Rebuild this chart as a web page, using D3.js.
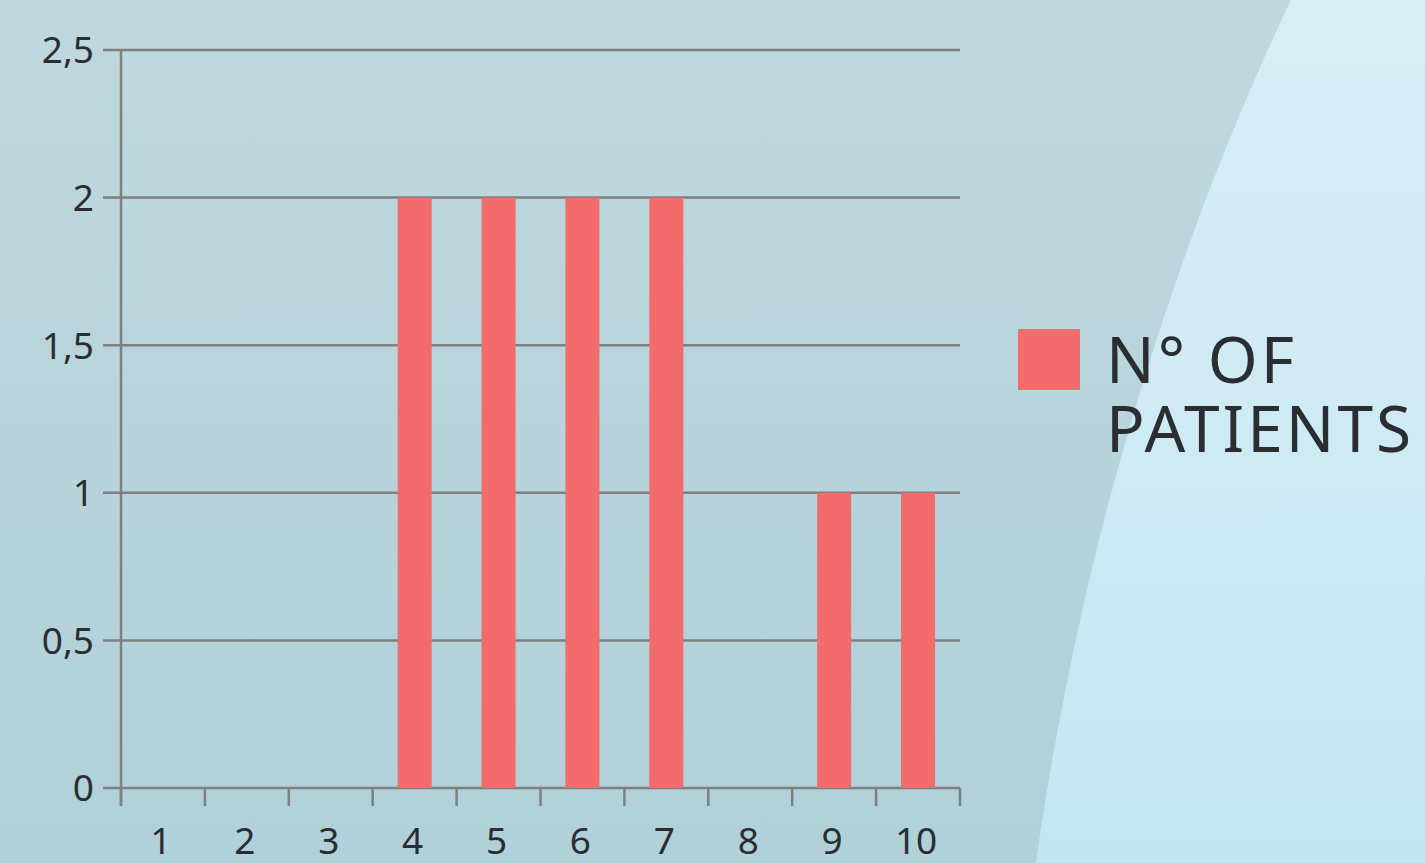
<!DOCTYPE html>
<html>
<head>
<meta charset="utf-8">
<script src="https://cdn.jsdelivr.net/npm/d3@7"></script>
<style>
  html, body { margin: 0; padding: 0; }
  body { width: 1425px; height: 863px; overflow: hidden; }
  text { font-family: "Noto Sans", "Open Sans", sans-serif; fill: #2a2e31; }
</style>
</head>
<body>
<div id="chart"></div>
<script>
// data
var categories = ["1", "2", "3", "4", "5", "6", "7", "8", "9", "10"];
var patients = [0, 0, 0, 2, 2, 2, 2, 0, 1, 1];
var yTicks = [0, 0.5, 1, 1.5, 2, 2.5];
var seriesName = ["N° OF", "PATIENTS"];

var W = 1425, H = 863;
var margin = {top: 50, left: 121, right: 465, bottom: 75};
var width = W - margin.left - margin.right,
    height = H - margin.top - margin.bottom;

var svg = d3.select("#chart").append("svg")
   .attr("width", W)
   .attr("height", H);

// background
var defs = svg.append("defs");
var g1 = defs.append("linearGradient").attr("id", "bgLeft")
   .attr("x1", 0).attr("y1", 0).attr("x2", 0).attr("y2", 1);
g1.append("stop").attr("offset", "0%").attr("stop-color", "#bfd8de");
g1.append("stop").attr("offset", "100%").attr("stop-color", "#b0d0da");
var g2 = defs.append("linearGradient").attr("id", "bgRight")
   .attr("x1", 0).attr("y1", 0).attr("x2", 0).attr("y2", 1);
g2.append("stop").attr("offset", "0%").attr("stop-color", "#d8eef7");
g2.append("stop").attr("offset", "100%").attr("stop-color", "#c4e6f3");

svg.append("rect").attr("width", W).attr("height", H).attr("fill", "url(#bgLeft)");
svg.append("path")
   .attr("d", "M1291,0 C1205,180 1090,480 1036,863 L1425,863 L1425,0 Z")
   .attr("fill", "url(#bgRight)");

var x = d3.scaleBand()
   .domain(categories)
   .range([0, width])
   .paddingInner(0).paddingOuter(0);

var y = d3.scaleLinear()
   .domain([0, 2.5])
   .range([height, 0]);

var g = svg.append("g")
   .attr("transform", "translate(" + margin.left + "," + margin.top + ")");

var fmt = function(d) { return String(d).replace(".", ","); };

// gridlines
g.selectAll(".grid")
   .data(yTicks).enter()
   .append("line").attr("class", "grid")
   .attr("x1", -18).attr("x2", width)
   .attr("y1", function(d) { return y(d); })
   .attr("y2", function(d) { return y(d); })
   .attr("stroke", "#7f7f7f")
   .attr("stroke-width", 2.5);

g.selectAll(".ylab")
   .data(yTicks).enter()
   .append("text").attr("class", "ylab")
   .attr("x", -27)
   .attr("y", function(d) { return y(d); })
   .attr("dy", "0.36em")
   .attr("text-anchor", "end")
   .style("font-size", "37px")
   .text(fmt);

// bars
var barW = 34;
g.selectAll(".bar")
   .data(patients).enter()
   .append("rect").attr("class", "bar")
   .attr("x", function(d, i) { return x(categories[i]) + x.bandwidth() / 2 - barW / 2; })
   .attr("width", barW)
   .attr("y", function(d) { return y(d); })
   .attr("height", function(d) { return height - y(d); })
   .attr("fill", "#f26c6c");

// axes lines
g.append("line")
   .attr("x1", 0).attr("x2", 0)
   .attr("y1", 0).attr("y2", height + 18)
   .attr("stroke", "#7f7f7f").attr("stroke-width", 2.5);

var boundaries = categories.map(function(c) { return x(c); }).concat([width]);
g.selectAll(".xtick")
   .data(boundaries).enter()
   .append("line").attr("class", "xtick")
   .attr("x1", function(d) { return d; }).attr("x2", function(d) { return d; })
   .attr("y1", height).attr("y2", height + 18)
   .attr("stroke", "#7f7f7f").attr("stroke-width", 2.5);

g.selectAll(".xlab")
   .data(categories).enter()
   .append("text").attr("class", "xlab")
   .attr("x", function(d) { return x(d) + x.bandwidth() / 2 - 2; })
   .attr("y", height + 66)
   .attr("text-anchor", "middle")
   .style("font-size", "37px")
   .text(function(d) { return d; });

// legend
var leg = svg.append("g").attr("transform", "translate(1018,329)");
leg.append("rect").attr("width", 62).attr("height", 61).attr("fill", "#f26c6c");
leg.selectAll("text")
   .data(seriesName).enter()
   .append("text")
   .attr("x", 88)
   .attr("y", function(d, i) { return 54 + i * 69; })
   .style("font-size", "64px")
   .style("letter-spacing", "3px")
   .text(function(d) { return d; });
</script>
</body>
</html>
